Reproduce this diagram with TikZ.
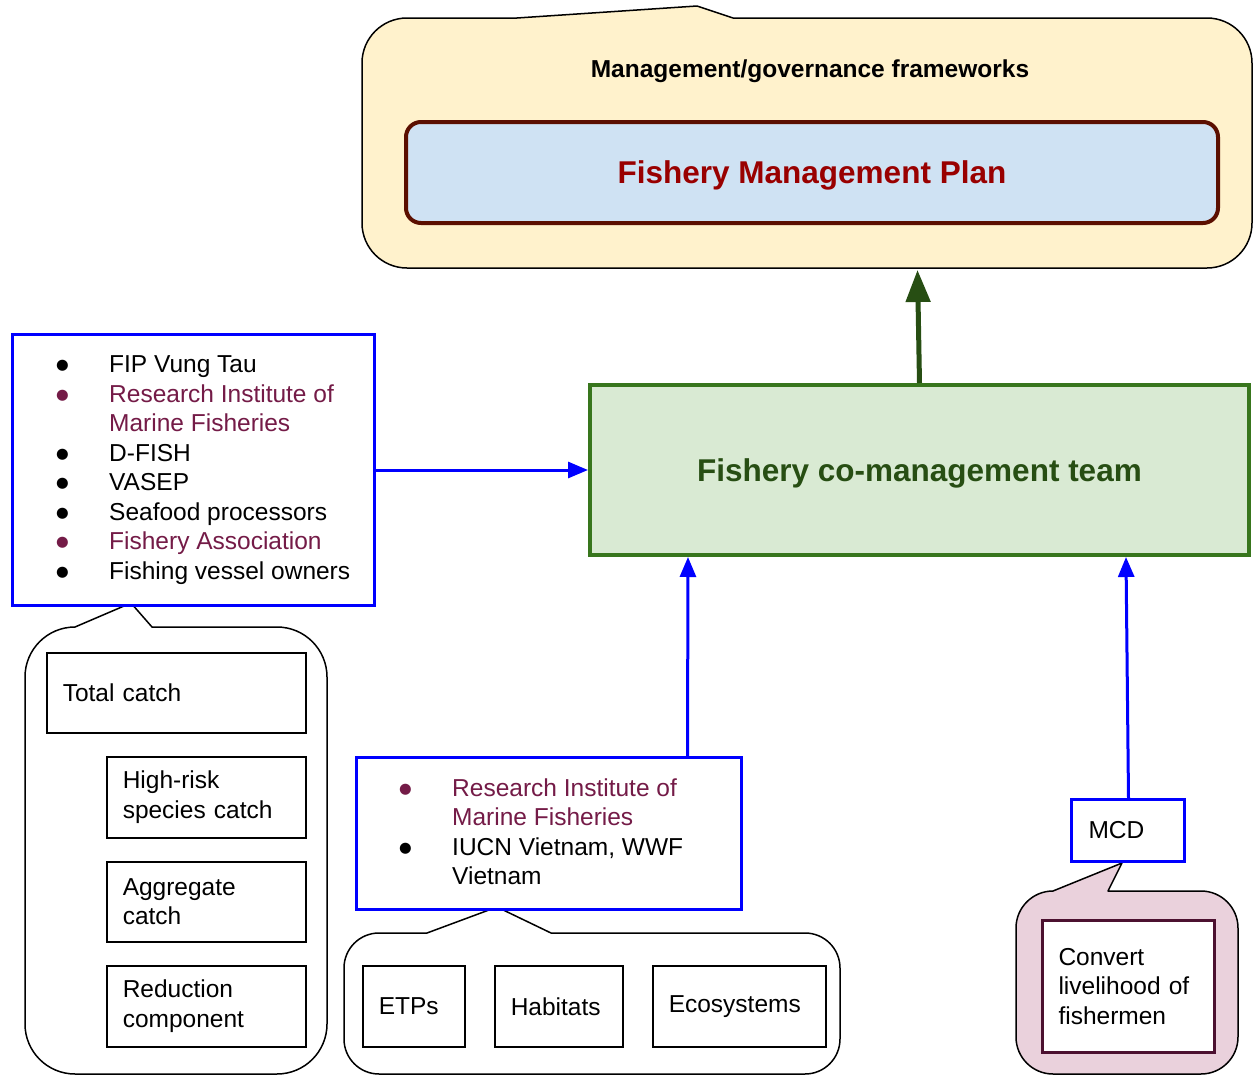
\documentclass[tikz,border=0pt]{standalone}
\usepackage{fontspec}
\setmainfont{Liberation Sans}
\newfontfamily\dotfont{DejaVu Sans}
\usetikzlibrary{arrows.meta}
\definecolor{frameyellow}{HTML}{FFF2CC}
\definecolor{planblue}{HTML}{CFE2F3}
\definecolor{planborder}{HTML}{5B0F00}
\definecolor{plantext}{HTML}{990000}
\definecolor{teamfill}{HTML}{D9EAD3}
\definecolor{teamborder}{HTML}{38761D}
\definecolor{teamtext}{HTML}{274E13}
\definecolor{linkblue}{HTML}{0000FF}
\definecolor{rimfpurple}{HTML}{741B47}
\definecolor{mcdpink}{HTML}{EAD1DC}
\definecolor{mcdborder}{HTML}{4C1130}
\tikzstyle{callout} = [draw=black, line width=1.5pt, line join=round]
\tikzstyle{cell} = [draw=black, line width=1.5pt, inner xsep=16pt, inner ysep=0pt, align=left, anchor=north west]
\tikzstyle{party} = [draw=linkblue, line width=3pt, fill=white, inner sep=0pt, anchor=north west]
\tikzstyle{items} = [inner sep=0pt, anchor=west, align=left]
\tikzstyle{link} = [draw=linkblue, line width=3pt, -{Triangle[length=20pt, width=16pt]}]
\newcommand{\bul}[1][black]{\textcolor{#1}{\raisebox{3pt}{\dotfont\fontsize{14.5}{14.5}\selectfont ●}}}

\begin{document}
\begin{tikzpicture}[x=1pt, y=-1pt, font=\fontsize{24.5}{29.5}\selectfont]
    \useasboundingbox (0,0) rectangle (1254,1076);
    % speech bubbles
    \draw[callout, fill=frameyellow] (517,18) -- (697,6) -- (733,18) -- (1207,18) arc[start angle=-90, end angle=0, radius=45]
        -- (1252,223) arc[start angle=0, end angle=90, radius=45] -- (407,268) arc[start angle=90, end angle=180, radius=45]
        -- (362,63) arc[start angle=180, end angle=270, radius=45] -- cycle;
    \draw[callout, fill=white] (75,627) -- (131,603) -- (152,627) -- (277,627) arc[start angle=-90, end angle=0, radius=50]
        -- (327,1024) arc[start angle=0, end angle=90, radius=50] -- (75,1074) arc[start angle=90, end angle=180, radius=50]
        -- (25,677) arc[start angle=180, end angle=270, radius=50] -- cycle;
    \draw[callout, fill=white] (427,933) -- (497,907) -- (551,933) -- (805,933) arc[start angle=-90, end angle=0, radius=35]
        -- (840,1039) arc[start angle=0, end angle=90, radius=35] -- (379,1074) arc[start angle=90, end angle=180, radius=35]
        -- (344,968) arc[start angle=180, end angle=270, radius=35] -- cycle;
    \draw[callout, fill=mcdpink] (1053,891) -- (1122,863) -- (1108,891) -- (1201,891) arc[start angle=-90, end angle=0, radius=37]
        -- (1238,1037) arc[start angle=0, end angle=90, radius=37] -- (1053,1074) arc[start angle=90, end angle=180, radius=37]
        -- (1016,928) arc[start angle=180, end angle=270, radius=37] -- cycle;

    \node (frametitle) [font=\fontsize{24.5}{29.5}\selectfont\bfseries] at (810,71) {Management/governance frameworks};
    \node (fmp) [anchor=north west, draw=planborder, fill=planblue, line width=4pt, rounded corners=15, minimum width=812pt, minimum height=101pt, text depth=0pt, text=plantext, font=\fontsize{31.5}{36}\selectfont\bfseries] at (404,120) {Fishery Management Plan};
    \coordinate (frame) at (917.5,270);

    \node (team) [anchor=north west, draw=teamborder, fill=teamfill, line width=4pt, minimum width=659pt, minimum height=170pt, text depth=0pt, text=teamtext, font=\fontsize{31.5}{36}\selectfont\bfseries] at (588,383) {Fishery co-management team};

    \node (stake) [party, minimum width=362pt, minimum height=271pt] at (11,333) {};
    \node (stakeitems) [items] at ([xshift=45pt]stake.west) {\begin{tabular}{@{}p{53pt}@{}l@{}}
        \bul & FIP Vung Tau\\
        \bul[rimfpurple] & \textcolor{rimfpurple}{Research Institute of}\\
        & \textcolor{rimfpurple}{Marine Fisheries}\\
        \bul & D-FISH\\
        \bul & VASEP\\
        \bul & Seafood processors\\
        \bul[rimfpurple] & \textcolor{rimfpurple}{Fishery Association}\\
        \bul & Fishing vessel owners
    \end{tabular}};

    \node (science) [party, minimum width=385pt, minimum height=152pt] at (355,756) {};
    \node (scienceitems) [items] at ([xshift=44pt, yshift=-1pt]science.west) {\begin{tabular}{@{}p{53pt}@{}l@{}}
        \bul[rimfpurple] & \textcolor{rimfpurple}{Research Institute of}\\
        & \textcolor{rimfpurple}{Marine Fisheries}\\
        \bul & IUCN Vietnam, WWF\\
        & Vietnam
    \end{tabular}};

    \node (mcd) [party, minimum width=113pt, minimum height=62pt, inner xsep=17pt, text width=79pt, align=left] at (1070,798) {MCD};

    % catch components
    \node (total) [cell, text width=227pt, minimum height=80pt] at (46,652) {Total catch};
    \node (highrisk) [cell, text width=167pt, minimum height=81pt] at (106,756) {High-risk\\species catch};
    \node (aggregate) [cell, text width=167pt, minimum height=80pt] at (106,861) {Aggregate\\catch};
    \node (reduction) [cell, text width=167pt, minimum height=81pt] at (106,965) {Reduction\\component};

    % ecosystem components
    \node (etps) [cell, text width=70pt, minimum height=81pt] at (362,965) {ETPs};
    \node (habitats) [cell, text width=96pt, minimum height=81pt] at (494,965) {Habitats};
    \node (ecosystems) [cell, text width=141pt, minimum height=81pt] at (652,965) {Ecosystems};

    \node (livelihood) [cell, draw=mcdborder, line width=3pt, fill=white, text width=140pt, minimum height=132pt] at (1041,919) {Convert\\livelihood of\\fishermen};

    \draw[draw=teamtext, line width=5pt, -{Triangle[length=32pt, width=24pt]}] (team.north) -- (frame);
    \draw[link] (stake.east) -- (team.west);
    \draw[link] ([xshift=138.5pt]science.north) -- ([xshift=-231.5pt]team.south);
    \draw[link] ([xshift=0.5pt]mcd.north) -- ([xshift=206.5pt]team.south);
\end{tikzpicture}
\end{document}
